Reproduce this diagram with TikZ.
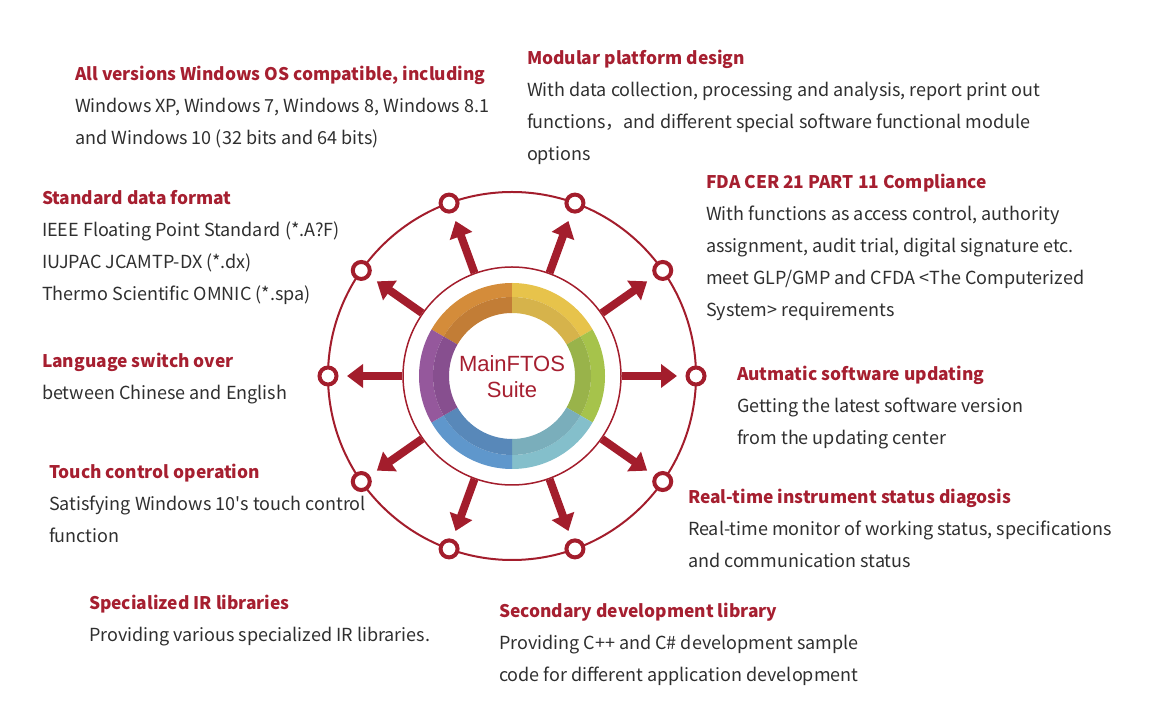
\documentclass[tikz,border=0pt]{standalone}
\usepackage{fontspec}
\setmainfont{Noto Sans CJK SC}
\newfontfamily\nomap{Noto Sans CJK SC}[Ligatures=TeXOff]
\newfontfamily\arialf{Liberation Sans}
\usetikzlibrary{arrows.meta,calc}
\definecolor{dred}{HTML}{A31D2C}
\definecolor{hred}{HTML}{A61F30}
\definecolor{btxt}{HTML}{2F2F2F}
\definecolor{orA}{HTML}{D48C3A}\definecolor{orB}{HTML}{C27D36}
\definecolor{yeA}{HTML}{E7C34B}\definecolor{yeB}{HTML}{D6B34B}
\definecolor{grA}{HTML}{A6C34B}\definecolor{grB}{HTML}{99B34A}
\definecolor{teA}{HTML}{84BFCB}\definecolor{teB}{HTML}{7AAEBB}
\definecolor{blA}{HTML}{5F97CC}\definecolor{blB}{HTML}{5888B9}
\definecolor{puA}{HTML}{95589C}\definecolor{puB}{HTML}{874F8F}
\newcommand\hdtext[1]{{\color{hred}\fontsize{17.4}{32}\selectfont\bfseries #1}}
\tikzset{
  txt/.style={anchor=base west, inner sep=0pt, outer sep=0pt, align=left, text=btxt,
    font=\fontsize{18}{32}\selectfont},
  knob/.style={circle, draw=dred, line width=4pt, fill=white, minimum size=17pt, inner sep=0pt},
  arr/.style={draw=dred, line width=8pt, -{Triangle[length=16pt,width=23pt]}, shorten >=8.5pt},
}
\begin{document}
\begin{tikzpicture}[x=1pt,y=1pt]
\useasboundingbox (0,0) rectangle (1150,706);
\coordinate (C) at (512,330);
% outer ring
\draw[dred, line width=2pt] (C) circle (184);
% hub
\node[circle, draw=dred, line width=1.5pt, fill=white, minimum size=218pt, inner sep=0pt] (hub) at (C) {};
% colour ring
\begin{scope}[shift={(C)}]
\foreach \a/\b/\ca/\cb in {90/150/orA/orB, 30/90/yeA/yeB, -30/30/grA/grB, -90/-30/teA/teB, -150/-90/blA/blB, 150/210/puA/puB}{
  \fill[\ca] (\a:93) arc (\a:\b:93) -- (\b:79) arc (\b:\a:79) -- cycle;
  \fill[\cb] (\a:79) arc (\a:\b:79) -- (\b:63) arc (\b:\a:63) -- cycle;
}
\end{scope}
\node[align=center, inner sep=0pt, anchor=base, text=hred, font=\arialf\fontsize{22}{26}\selectfont] (title) at (512,308) {MainFTOS\\Suite};
% knobs and arrows
\foreach \a [count=\i] in {0,35,70,110,145,180,215,250,290,325}{
  \node[knob] (n\i) at ($(C)+(\a:184)$) {};
  \draw[arr] (hub.\a) -- (n\i);
}
% texts (anchor = baseline of last line)
\node[txt] (t1) at (75,561) {\hdtext{All versions Windows OS compatible, including}\\Windows XP, Windows 7, Windows 8, Windows 8.1\\and Windows 10 (32 bits and 64 bits)};
\node[txt] (t2) at (527,545) {\hdtext{Modular platform design}\\With data collection, processing and analysis, report print out\\functions，and different special software functional module\\options};
\node[txt] (t3) at (706,389) {\hdtext{FDA CER 21 PART 11 Compliance}\\With functions as access control, authority\\assignment, audit trial, digital signature etc.\\meet GLP/GMP and CFDA <The Computerized\\System> requirements};
\node[txt] (t4) at (42,405) {\hdtext{Standard data format}\\IEEE Floating Point Standard (*.A?F)\\IUJPAC JCAMTP-DX (*.dx)\\Thermo Scientific OMNIC (*.spa)};
\node[txt] (t5) at (42,306) {\hdtext{Language switch over}\\between Chinese and English};
\node[txt] (t6) at (737,261) {\hdtext{Autmatic software updating}\\Getting the latest software version\\from the updating center};
\node[txt] (t7) at (49,163) {\hdtext{Touch control operation}\\Satisfying Windows 10{\nomap'}s touch control\\function};
\node[txt] (t8) at (688,138) {\hdtext{Real-time instrument status diagosis}\\Real-time monitor of working status, specifications\\and communication status};
\node[txt] (t9) at (89,64) {\hdtext{Specialized IR libraries}\\Providing various specialized IR libraries.};
\node[txt] (t10) at (499,24) {\hdtext{Secondary development library}\\Providing C++ and C\# development sample\\code for different application development};
\end{tikzpicture}
\end{document}
